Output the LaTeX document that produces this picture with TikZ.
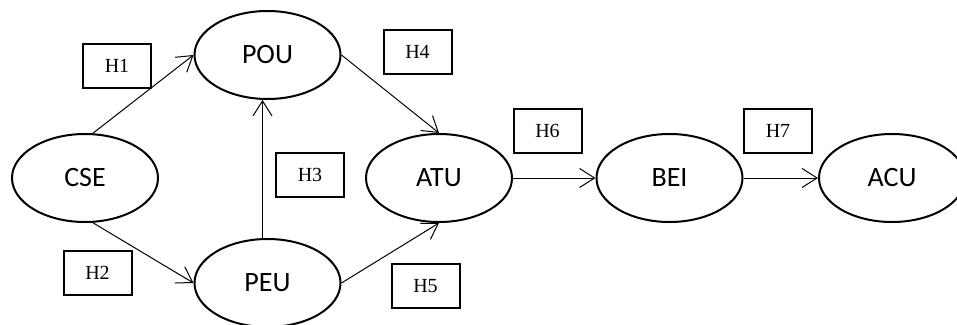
\documentclass[tikz,border=0pt]{standalone}
\usepackage{fontspec}
\setmainfont{Liberation Serif}
\newfontfamily\lblfont{Carlito}
\usetikzlibrary{arrows.meta,shapes.geometric}
\tikzset{
  constr/.style={ellipse, draw, line width=2pt, minimum width=146pt, minimum height=88pt, inner sep=0pt,
    font=\lblfont\fontsize{28}{30}\selectfont},
  hbox/.style={rectangle, draw, line width=2pt, minimum width=68pt, minimum height=44pt, inner sep=0pt,
    font=\fontsize{20}{22}\selectfont},
  arr/.style={line width=1pt, -{Straight Barb[length=15pt,width=19pt,line width=1pt]}}
}
\begin{document}
\begin{tikzpicture}[x=1pt,y=-1pt]
\useasboundingbox (0,0) rectangle (957,324);
\clip (0,0) rectangle (957,324);
\node[constr] (cse) at (85,178) {CSE};
\node[constr] (pou) at (267.5,55) {POU};
\node[constr] (peu) at (267.5,283) {PEU};
\node[constr] (atu) at (439,178) {ATU};
\node[constr] (bei) at (669.5,178) {BEI};
\node[constr] (acu) at (892,178) {ACU};
\node[hbox] (h1) at (117,66) {H1};
\node[hbox] (h2) at (97.5,273) {H2};
\node[hbox] (h3) at (310,174.5) {H3};
\node[hbox] (h4) at (417.5,52) {H4};
\node[hbox] (h5) at (425.5,286) {H5};
\node[hbox] (h6) at (547.5,131) {H6};
\node[hbox] (h7) at (778,131) {H7};
\draw[arr] (cse.80) -- (pou.west);
\draw[arr] (cse.-80) -- (peu.west);
\draw[arr] ([xshift=-5pt]peu.north) -- ([xshift=-5pt]pou.south);
\draw[arr] (pou.east) -- (atu.north);
\draw[arr] (peu.east) -- (atu.south);
\draw[arr] (atu.east) -- (bei.west);
\draw[arr] (bei.east) -- (acu.west);
\end{tikzpicture}
\end{document}
